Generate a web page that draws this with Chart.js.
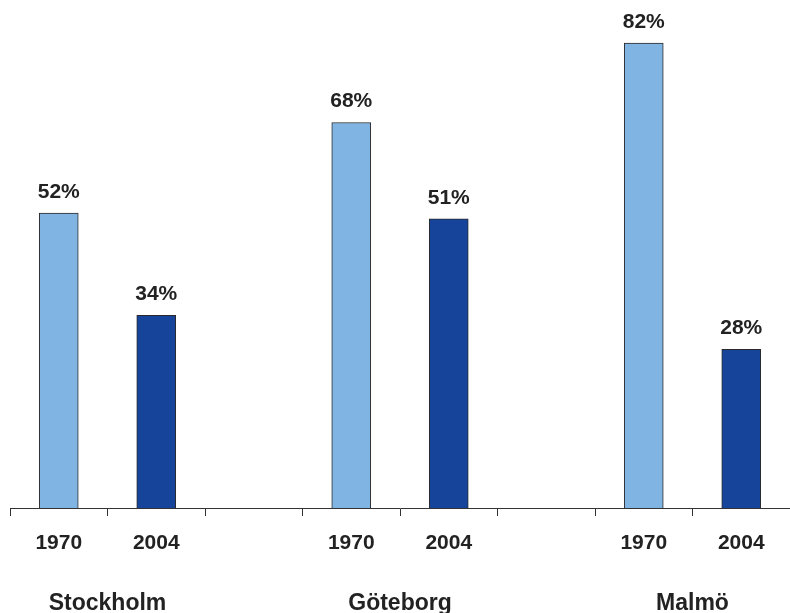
<!DOCTYPE html>
<html>
<head>
<meta charset="utf-8">
<script src="https://cdn.jsdelivr.net/npm/chart.js@4.4.0/dist/chart.umd.min.js"></script>
<style>
    body { margin: 0; background: #fff; }
    #wrap { width: 790px; height: 613px; }
</style>
</head>
<body>
<div id="wrap"><canvas id="shareChart"></canvas></div>
<script>
// slots: 1970 / 2004 per city, blank slot between cities
const years = ['1970', '2004', '', '1970', '2004', '', '1970', '2004'];
const shares = [52, 34, null, 68, 51, null, 82, 28];
const cities = ['Stockholm', 'Göteborg', 'Malmö'];
const cityStart = [0, 3, 6]; // first slot of each city

const light = '#80b5e3';
const dark = '#16449a';

const valueLabels = {
    id: 'valueLabels',
    afterDatasetsDraw(chart) {
        const ctx = chart.ctx;
        const meta = chart.getDatasetMeta(0);
        ctx.save();
        ctx.font = 'bold 21px "Liberation Sans", Arial, sans-serif';
        ctx.fillStyle = '#222';
        ctx.textAlign = 'center';
        ctx.textBaseline = 'alphabetic';
        meta.data.forEach(function(bar, i) {
            if (shares[i] == null) return;
            ctx.fillText(shares[i] + '%', bar.x, bar.y - 15);
        });
        ctx.restore();
    }
};

const cityLabels = {
    id: 'cityLabels',
    afterDraw(chart) {
        const ctx = chart.ctx;
        const x = chart.scales.x;
        ctx.save();
        ctx.font = 'bold 23px "Liberation Sans", Arial, sans-serif';
        ctx.fillStyle = '#222';
        ctx.textAlign = 'center';
        ctx.textBaseline = 'middle';
        cities.forEach(function(name, i) {
            const s = cityStart[i];
            const cx = (x.getPixelForValue(s) + x.getPixelForValue(s + 1)) / 2;
            ctx.fillText(name, cx, chart.chartArea.bottom + 96);
        });
        ctx.restore();
    }
};

var ctx = document.getElementById('shareChart').getContext('2d');
var shareChart = new Chart(ctx, {
    type: 'bar',
    data: {
        labels: years,
        datasets: [{
            data: shares,
            backgroundColor: years.map(y => y === '1970' ? light : dark),
            borderColor: '#2a2a2a',
            borderWidth: 1,
            barThickness: 39
        }]
    },
    options: {
        responsive: true,
        maintainAspectRatio: false,
        animation: false,
        layout: {
            padding: { left: 10, right: -1, top: 0, bottom: 0 }
        },
        plugins: {
            legend: { display: false },
            tooltip: { enabled: false }
        },
        scales: {
            x: {
                offset: true,
                border: { display: true, color: '#333', width: 1 },
                grid: {
                    display: true,
                    offset: true,
                    drawOnChartArea: false,
                    drawTicks: true,
                    tickLength: 8,
                    color: '#333'
                },
                ticks: {
                    color: '#222',
                    padding: 15,
                    maxRotation: 0,
                    autoSkip: false,
                    font: { family: '"Liberation Sans", Arial, sans-serif', size: 21, weight: 'bold' }
                },
                afterFit: function(scale) { scale.height = 105; }
            },
            y: {
                display: false,
                min: 0,
                max: 89.6
            }
        }
    },
    plugins: [valueLabels, cityLabels]
});
</script>
</body>
</html>
